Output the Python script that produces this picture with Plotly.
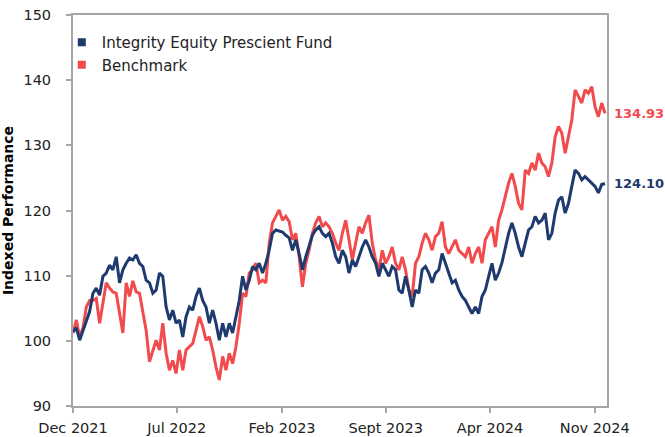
import pandas as pd
import plotly.graph_objects as go

# Values (roughly weekly)
fund = [
    101.4, 102.0, 100.1, 101.6, 103.2, 104.5, 107.3, 108.1, 107.0, 109.9, 110.4, 111.6, 110.9, 112.9, 108.9,
    110.9, 111.9, 112.7, 112.4, 113.2, 111.9, 111.4, 109.3, 108.9, 107.3, 107.8, 110.4, 109.9, 105.2, 103.2,
    104.7, 102.7, 103.2, 100.6, 103.7,
    105.2, 104.7, 106.8, 108.1, 106.2, 105.2, 102.7, 104.7, 102.7, 100.1, 102.7, 100.6, 102.7, 101.2, 103.7,
    106.2, 109.9, 107.8, 109.3, 111.4, 110.9, 111.9, 110.4, 111.9, 113.9, 116.5, 117.0, 116.8, 116.7, 116.2,
    115.8,
    113.9, 115.5, 113.4, 110.9, 112.9, 114.4, 116.2, 117.0, 117.5, 116.5, 116.0, 116.5, 115.0, 112.9, 111.9,
    113.9, 112.9, 110.4, 112.4, 111.4, 112.9, 114.4, 115.5, 114.4, 112.9, 111.9, 109.9, 111.9, 110.9, 109.9,
    111.4, 110.9, 107.8,
    107.3, 109.9, 107.8, 105.2, 107.8, 107.3, 110.9, 111.4, 110.4, 108.9, 110.4, 110.9, 113.4, 111.9, 110.4,
    108.9, 109.3, 107.8, 106.8, 106.2, 105.2, 104.2, 105.2, 104.2, 106.8, 107.8, 109.9, 111.9, 109.3, 110.4,
    112.0, 114.4, 116.5, 118.1, 116.5, 114.4, 112.9, 115.0, 117.0, 117.5, 119.1, 118.1, 118.5, 119.6, 115.5,
    116.5, 119.6, 121.6, 122.1, 119.6, 121.1, 123.7, 126.2, 125.7, 124.7, 125.2, 124.7, 124.2, 123.7, 122.7,
    124.0, 124.10,
]
benchmark = [
    101.2, 103.2, 100.6, 102.0, 105.2, 106.2, 106.2, 106.5, 102.7, 106.2, 108.9, 108.1, 107.5, 107.3, 104.5,
    101.2, 108.9, 106.8, 109.2, 107.5, 107.3, 104.7, 101.6, 96.8, 98.6, 100.1, 98.6, 102.7, 98.1, 95.5,
    97.0, 95.0, 98.6, 95.5, 98.6,
    99.1, 99.6, 101.6, 103.7, 102.2, 100.1, 100.6, 98.6, 96.0, 94.0, 97.6, 95.5, 98.1, 96.5, 99.1,
    102.7, 107.3, 106.8, 110.4, 110.9, 111.9, 108.9, 109.3, 108.9, 115.0, 118.1, 119.1, 120.1, 118.5, 119.1,
    118.3,
    115.5, 116.5, 112.9, 108.3, 111.9, 113.9, 116.5, 118.1, 119.1, 117.5, 118.1, 117.5, 116.5, 115.0, 113.9,
    116.5, 118.5, 115.5, 112.4, 115.0, 117.5, 116.5, 118.1, 119.3, 115.0, 112.4, 110.9, 113.9, 111.9, 112.9,
    114.4, 111.9, 110.9,
    112.9, 110.9, 107.8, 106.8, 111.9, 112.9, 115.0, 116.5, 115.5, 113.9, 116.0, 116.5, 118.3, 114.4, 113.4,
    114.4, 115.5, 113.9, 113.4, 112.9, 114.4, 111.9, 113.4, 114.4, 111.9, 115.5, 116.5, 117.5, 114.4, 118.5,
    120.1, 122.1, 124.2, 125.7, 123.7, 121.1, 120.1, 126.2, 125.7, 127.3, 126.2, 128.8, 127.3, 126.7, 125.2,
    127.3, 131.3, 132.9, 131.9, 128.8, 131.3, 133.9, 138.5, 137.5, 136.5, 138.5, 138.0, 139.0, 135.9, 134.4,
    136.5, 134.93,
]
dates = pd.date_range("2021-12-01", "2024-11-22", periods=len(fund))

series_names = ["Integrity Equity Prescient Fund", "Benchmark"]
tick_dates = ["2021-12-01", "2022-07-01", "2023-02-01", "2023-09-01", "2024-04-01", "2024-11-01"]
tick_labels = ["Dec 2021", "Jul 2022", "Feb 2023", "Sept 2023", "Apr 2024", "Nov 2024"]

NAVY = "#1f3a6e"
RED = "#f24b4d"
GREY = "#a6a6a6"
FONT = "DejaVu Sans"

fig = go.Figure()
fig.add_trace(go.Scatter(x=dates, y=benchmark, mode="lines", line=dict(color=RED, width=3),
                         showlegend=False, name=series_names[1]))
fig.add_trace(go.Scatter(x=dates, y=fund, mode="lines", line=dict(color=NAVY, width=3),
                         showlegend=False, name=series_names[0]))
# legend entries with square swatches
fig.add_trace(go.Scatter(x=[None], y=[None], mode="markers", name=series_names[0],
                         marker=dict(symbol="square", size=8, color=NAVY)))
fig.add_trace(go.Scatter(x=[None], y=[None], mode="markers", name=series_names[1],
                         marker=dict(symbol="square", size=8, color=RED)))

fig.add_annotation(x=dates[-1], y=benchmark[-1], text=f"<b>{benchmark[-1]:.2f}</b>", showarrow=False,
                   xanchor="left", xshift=7, font=dict(family=FONT, size=13, color=RED))
fig.add_annotation(x=dates[-1], y=fund[-1], text=f"<b>{fund[-1]:.2f}</b>", showarrow=False,
                   xanchor="left", xshift=7, font=dict(family=FONT, size=13, color=NAVY))

fig.update_layout(
    width=665, height=437,
    margin=dict(l=73, r=58, t=15, b=31, autoexpand=False),
    plot_bgcolor="white", paper_bgcolor="white",
    font=dict(family=FONT, size=14, color="#222222"),
    legend=dict(x=-0.021, y=0.972, xanchor="left", yanchor="top",
                bgcolor="rgba(0,0,0,0)", font=dict(family=FONT, size=15, color="#222222"),
                tracegroupgap=0),
    xaxis=dict(type="date", range=["2021-12-01", "2024-11-26"], tickvals=tick_dates, ticktext=tick_labels,
               automargin=False,
               showgrid=False, zeroline=False, showline=True, linecolor=GREY, linewidth=2, mirror=True,
               ticks="outside", ticklen=5, tickwidth=2, tickcolor=GREY, ticklabelstandoff=3,
               tickfont=dict(family=FONT, size=14.5, color="#222222")),
    yaxis=dict(range=[90, 150], dtick=10, tick0=90, automargin=False,
               showgrid=False, zeroline=False, showline=True, linecolor=GREY, linewidth=2, mirror=True,
               ticks="outside", ticklen=5, tickwidth=2, tickcolor=GREY, ticklabelstandoff=12,
               tickfont=dict(family=FONT, size=14.5, color="#222222"),
               title=dict(text="<b>Indexed Performance</b>", standoff=8,
                          font=dict(family=FONT, size=14, color="#000000"))),
)

fig.write_html("out.html", config={"displayModeBar": False},
               post_script="document.body.style.margin='0px';")
